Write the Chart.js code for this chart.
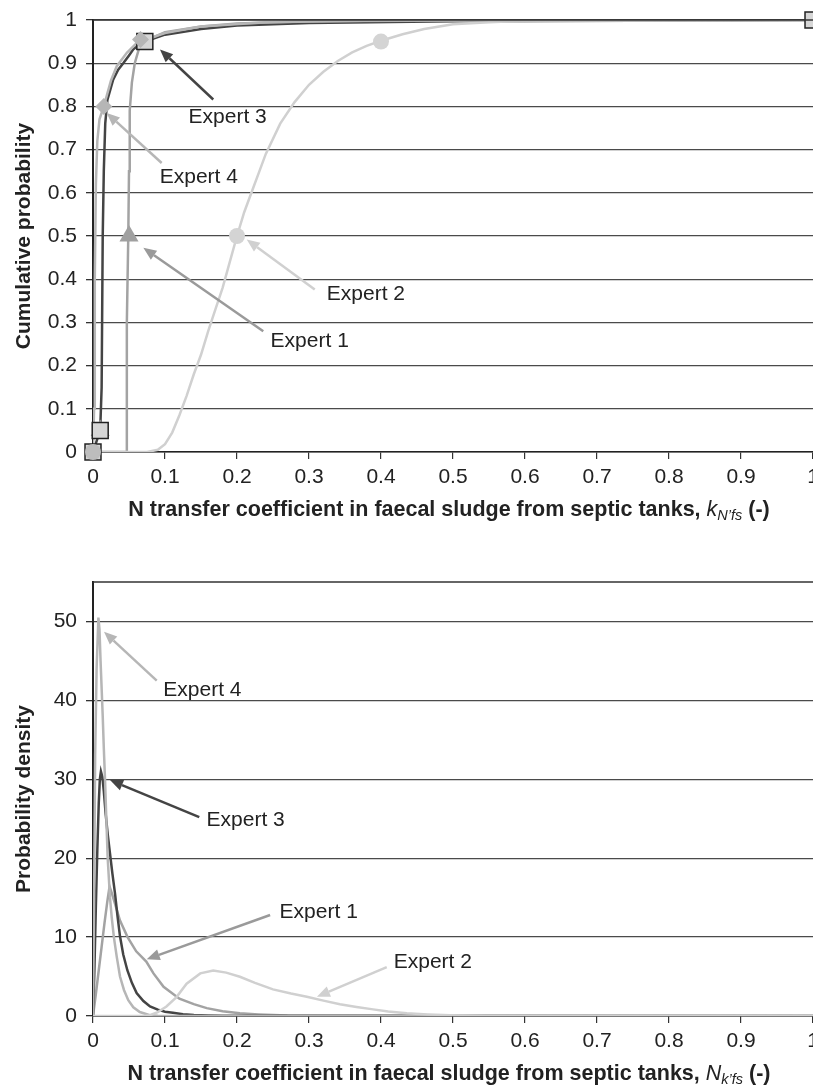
<!DOCTYPE html>
<html><head><meta charset="utf-8">
<script src="https://cdn.jsdelivr.net/npm/chart.js@4.4.1/dist/chart.umd.min.js"></script>
<style>
html,body{margin:0;padding:0;background:#fff;overflow:hidden;width:813px;height:1088px;}
#c1{position:absolute;left:0;top:0;}
#c2{position:absolute;left:0;top:545px;}
</style></head><body>
<canvas id="c1" width="813" height="545"></canvas>
<canvas id="c2" width="813" height="543"></canvas>
<script>
// ---------- tick labels ----------
const xTickValues = [0, 0.1, 0.2, 0.3, 0.4, 0.5, 0.6, 0.7, 0.8, 0.9, 1];
const xTickLabels = ['0', '0.1', '0.2', '0.3', '0.4', '0.5', '0.6', '0.7', '0.8', '0.9', '1'];
const cdfTickValues = [0, 0.1, 0.2, 0.3, 0.4, 0.5, 0.6, 0.7, 0.8, 0.9, 1];
const cdfTickLabels = ['0', '0.1', '0.2', '0.3', '0.4', '0.5', '0.6', '0.7', '0.8', '0.9', '1'];
const pdfTickValues = [0, 10, 20, 30, 40, 50];
const pdfTickLabels = ['0', '10', '20', '30', '40', '50'];
const seriesNames = ['Expert 1', 'Expert 2', 'Expert 3', 'Expert 4'];

// ---------- cumulative probability (top) ----------
const cdfExpert1X = [0, 0.046, 0.047, 0.049, 0.050, 0.051, 0.054, 0.058, 0.065, 0.07, 0.1, 0.15, 0.2, 0.3, 0.5, 1];
const cdfExpert1Y = [0, 0, 0.3, 0.5, 0.65, 0.79, 0.855, 0.9, 0.94, 0.95, 0.972, 0.985, 0.992, 0.997, 0.999, 1];
const cdfExpert2X = [0, 0.075, 0.09, 0.1, 0.11, 0.12, 0.13, 0.14, 0.15, 0.16, 0.17, 0.18, 0.19, 0.2, 0.21, 0.22, 0.23, 0.24, 0.26, 0.28, 0.3, 0.32, 0.34, 0.36, 0.38, 0.4, 0.43, 0.46, 0.5, 0.55, 0.6, 1];
const cdfExpert2Y = [0, 0, 0.005, 0.018, 0.045, 0.085, 0.13, 0.18, 0.225, 0.28, 0.33, 0.38, 0.44, 0.5, 0.555, 0.6, 0.645, 0.69, 0.76, 0.81, 0.85, 0.88, 0.905, 0.925, 0.94, 0.952, 0.967, 0.979, 0.99, 0.995, 0.998, 1];
const cdfExpert3X = [0, 0.01, 0.012, 0.0135, 0.015, 0.017, 0.02, 0.028, 0.035, 0.042, 0.05, 0.056, 0.065, 0.072, 0.1, 0.15, 0.2, 0.3, 0.5, 0.75, 1];
const cdfExpert3Y = [0, 0.05, 0.15, 0.5, 0.65, 0.76, 0.815, 0.862, 0.885, 0.9, 0.918, 0.932, 0.944, 0.95, 0.966, 0.979, 0.987, 0.993, 0.997, 0.998, 1];
const cdfExpert4X = [0, 0.0015, 0.0025, 0.004, 0.006, 0.009, 0.015, 0.02, 0.025, 0.033, 0.047, 0.061, 0.07, 0.1, 0.15, 0.24, 0.4, 1];
const cdfExpert4Y = [0, 0.1, 0.4, 0.62, 0.72, 0.77, 0.8, 0.83, 0.86, 0.893, 0.924, 0.947, 0.953, 0.97, 0.985, 0.995, 0.999, 1];

// expert estimates (markers)
const markExpert1X = [0.01, 0.05];
const markExpert1Y = [0.05, 0.5];
const markExpert2X = [0, 0.2, 0.4];
const markExpert2Y = [0, 0.5, 0.95];
const markExpert3X = [0, 0.01, 0.072, 1];
const markExpert3Y = [0, 0.05, 0.95, 1];
const markExpert4X = [0.015, 0.066];
const markExpert4Y = [0.8, 0.955];

// ---------- probability density (bottom) ----------
const pdfExpert1X = [0, 0.004, 0.008, 0.012, 0.016, 0.02, 0.023, 0.026, 0.03, 0.0375, 0.048, 0.06, 0.074, 0.084, 0.098, 0.12, 0.14, 0.158, 0.18, 0.204, 0.23, 0.25, 0.27, 0.3, 1];
const pdfExpert1Y = [0, 2.8, 5.8, 8.8, 11.8, 14.6, 16.4, 15.6, 14.4, 12.1, 10.0, 8.2, 6.9, 5.4, 3.7, 2.2, 1.5, 1.0, 0.6, 0.34, 0.2, 0.13, 0.06, 0.02, 0];
const pdfExpert2X = [0, 0.07, 0.079, 0.09, 0.102, 0.116, 0.13, 0.149, 0.167, 0.185, 0.204, 0.225, 0.25, 0.275, 0.297, 0.32, 0.343, 0.366, 0.389, 0.41, 0.436, 0.465, 0.496, 0.52, 0.545, 1];
const pdfExpert2Y = [0, 0, 0.1, 0.5, 1.2, 2.4, 4.1, 5.4, 5.75, 5.5, 4.97, 4.2, 3.37, 2.85, 2.44, 1.95, 1.5, 1.15, 0.84, 0.58, 0.34, 0.2, 0.1, 0.05, 0.02, 0];
const pdfExpert3X = [0, 0.002, 0.004, 0.006, 0.008, 0.0095, 0.011, 0.013, 0.015, 0.0176, 0.0205, 0.0236, 0.027, 0.0306, 0.034, 0.0375, 0.042, 0.0477, 0.054, 0.0606, 0.07, 0.0792, 0.09, 0.1, 0.111, 0.125, 0.14, 0.16, 0.18, 1];
const pdfExpert3Y = [0, 6, 14, 21, 27, 30, 31, 30.3, 28.5, 25.6, 23, 20.6, 18, 15.5, 12.7, 10.1, 7.8, 5.8, 4.2, 2.9, 1.9, 1.2, 0.8, 0.55, 0.4, 0.22, 0.12, 0.05, 0.02, 0];
const pdfExpert4X = [0, 0.0015, 0.003, 0.005, 0.0075, 0.009, 0.0105, 0.012, 0.0135, 0.015, 0.0167, 0.0185, 0.0204, 0.0236, 0.026, 0.029, 0.033, 0.0375, 0.043, 0.049, 0.056, 0.065, 0.079, 0.09, 0.1, 1];
const pdfExpert4Y = [0, 15, 33, 44, 50.5, 49, 45, 41.5, 38, 34, 30, 25, 20, 15, 12.5, 10, 7.5, 5, 3.3, 2, 1.1, 0.5, 0.1, 0.03, 0, 0];

// ---------- styling / annotation config (kept apart from data) ----------
const FONT = '"Liberation Sans", Arial, Helvetica, sans-serif';
const TXT = '#222';
const COL = { e1: '#a3a3a3', e2: '#d0d0d0', e3: '#444444', e4: '#b6b6b6' };

const topNotes = [
  { text: seriesNames[2], tx: 0.187, ty: 0.774, from: [0.167, 0.816], to: [0.093, 0.932], color: COL.e3 },
  { text: seriesNames[3], tx: 0.147, ty: 0.635, from: [0.0954, 0.669], to: [0.019, 0.785], color: COL.e4 },
  { text: seriesNames[1], tx: 0.379, ty: 0.365, from: [0.308, 0.376], to: [0.2135, 0.492], color: COL.e2 },
  { text: seriesNames[0], tx: 0.301, ty: 0.256, from: [0.2365, 0.2797], to: [0.0699, 0.4727], color: '#9a9a9a' }
];
const bottomNotes = [
  { text: seriesNames[3], tx: 0.152, ty: 41.3, from: [0.0885, 42.5], to: [0.0153, 48.7], color: COL.e4 },
  { text: seriesNames[2], tx: 0.212, ty: 24.8, from: [0.1476, 25.2], to: [0.0236, 29.9], color: COL.e3 },
  { text: seriesNames[0], tx: 0.3135, ty: 13.2, from: [0.246, 12.8], to: [0.0746, 7.2], color: '#9a9a9a' },
  { text: seriesNames[1], tx: 0.472, ty: 6.87, from: [0.408, 6.2], to: [0.311, 2.44], color: COL.e2 }
];
const topTitleParts = [
  { text: 'N transfer coefficient in faecal sludge from septic tanks, ', font: 'bold 21.5px ' + FONT, dy: 0 },
  { text: 'k', font: 'italic 21.5px ' + FONT, dy: 0 },
  { text: 'N\u2019fs', font: 'italic 14.5px ' + FONT, dy: 4 },
  { text: ' (-)', font: 'bold 21.5px ' + FONT, dy: 0 }
];
const bottomTitleParts = [
  { text: 'N transfer coefficient in faecal sludge from septic tanks, ', font: 'bold 21.5px ' + FONT, dy: 0 },
  { text: 'N', font: 'italic 21.5px ' + FONT, dy: 0 },
  { text: 'k\u2019fs', font: 'italic 14.5px ' + FONT, dy: 4 },
  { text: ' (-)', font: 'bold 21.5px ' + FONT, dy: 0 }
];

const pts = (xs, ys) => xs.map((x, i) => ({ x: x, y: ys[i] }));

function lineDs(label, xs, ys, color) {
  return { label, data: pts(xs, ys), showLine: true, borderColor: color, backgroundColor: color,
    borderWidth: 2.5, pointRadius: 0, tension: 0, fill: false };
}
function markDs(label, xs, ys, style, radius, fillCol, borderCol, bw) {
  return { label, data: pts(xs, ys), showLine: false, pointStyle: style, pointRadius: radius,
    pointBackgroundColor: fillCol, pointBorderColor: borderCol, pointBorderWidth: bw, clip: false };
}

function makeNotesPlugin(notes, titleParts) {
  return {
    id: 'notes',
    afterDatasetsDraw(chart) {
      const ctx = chart.ctx, xs = chart.scales.x, ys = chart.scales.y;
      ctx.save();
      notes.forEach(a => {
        const x0 = xs.getPixelForValue(a.from[0]), y0 = ys.getPixelForValue(a.from[1]);
        const x1 = xs.getPixelForValue(a.to[0]), y1 = ys.getPixelForValue(a.to[1]);
        const ang = Math.atan2(y1 - y0, x1 - x0);
        const L = 13, W = 5.5;
        const bx = x1 - L * Math.cos(ang), by = y1 - L * Math.sin(ang);
        ctx.strokeStyle = a.color; ctx.lineWidth = 2.5; ctx.lineCap = 'butt';
        ctx.beginPath(); ctx.moveTo(x0, y0); ctx.lineTo(bx, by); ctx.stroke();
        ctx.fillStyle = a.color;
        ctx.beginPath(); ctx.moveTo(x1, y1);
        ctx.lineTo(bx + W * Math.sin(ang), by - W * Math.cos(ang));
        ctx.lineTo(bx - W * Math.sin(ang), by + W * Math.cos(ang));
        ctx.closePath(); ctx.fill();
        ctx.font = '21px ' + FONT; ctx.fillStyle = TXT;
        ctx.textAlign = 'center'; ctx.textBaseline = 'middle';
        ctx.fillText(a.text, xs.getPixelForValue(a.tx), ys.getPixelForValue(a.ty));
      });
      ctx.restore();
    },
    afterDraw(chart) {
      const ctx = chart.ctx, area = chart.chartArea;
      ctx.save();
      // top border of plot area
      ctx.strokeStyle = '#333'; ctx.lineWidth = 1.5;
      ctx.beginPath(); ctx.moveTo(area.left, area.top); ctx.lineTo(area.right, area.top); ctx.stroke();
      // axis title with italic subscript
      let total = 0;
      titleParts.forEach(p => { ctx.font = p.font; p.w = ctx.measureText(p.text).width; total += p.w; });
      let xx = (area.left + area.right) / 2 - 4 - total / 2;
      const yy = area.bottom + 63.5;
      ctx.fillStyle = TXT; ctx.textAlign = 'left'; ctx.textBaseline = 'alphabetic';
      titleParts.forEach(p => { ctx.font = p.font; ctx.fillText(p.text, xx, yy + p.dy); xx += p.w; });
      ctx.restore();
    }
  };
}

function makeScales(yMax, yVals, yLabels, yTitle, xHeight) {
  const tickFont = { family: FONT, size: 21 };
  return {
    x: {
      type: 'linear', min: 0, max: 1,
      afterBuildTicks: s => { s.ticks = xTickValues.map(v => ({ value: v })); },
      ticks: { callback: (v, i) => xTickLabels[i], font: tickFont, color: TXT, padding: 6, maxRotation: 0, autoSkip: false },
      grid: { drawOnChartArea: false, drawTicks: true, tickLength: 7, color: '#333', lineWidth: 1.2 },
      border: { color: '#222', width: 1.5 },
      afterFit: s => { s.height = xHeight; s.paddingLeft = 0; s.paddingRight = 0; }
    },
    y: {
      type: 'linear', min: 0, max: yMax,
      afterBuildTicks: s => { s.ticks = yVals.map(v => ({ value: v })); },
      ticks: { callback: (v, i) => yLabels[i], font: tickFont, color: TXT, padding: 9 },
      grid: { color: '#4a4a4a', lineWidth: 1.3, tickLength: 7, tickColor: '#333' },
      border: { color: '#222', width: 2 },
      title: { display: true, text: yTitle, color: TXT, font: { family: FONT, size: 21, weight: 'bold' }, padding: { top: 12, bottom: 0 } },
      afterFit: s => { s.width = 93; s.paddingTop = 0; s.paddingBottom = 0; }
    }
  };
}

const common = {
  responsive: false, animation: false, devicePixelRatio: 1, events: [],
  plugins: { legend: { display: false }, tooltip: { enabled: false } }
};

// ---------- top chart ----------
new Chart(document.getElementById('c1'), {
  type: 'scatter',
  data: {
    datasets: [
      markDs(seriesNames[1], markExpert2X, markExpert2Y, 'circle', 8, ['#bdbdbd', '#d4d4d4', '#d4d4d4'], ['#bdbdbd', '#d4d4d4', '#d4d4d4'], 0),
      markDs(seriesNames[3], markExpert4X, markExpert4Y, 'rectRot', 8.5, '#b6b6b6', '#b6b6b6', 0),
      markDs(seriesNames[2], markExpert3X, markExpert3Y, 'rect', 11.3, '#d6d6d6', '#222', 1.5),
      markDs(seriesNames[0], markExpert1X, markExpert1Y, 'triangle', 11, '#a0a0a0', '#a0a0a0', 0),
      lineDs(seriesNames[3], cdfExpert4X, cdfExpert4Y, COL.e4),
      lineDs(seriesNames[1], cdfExpert2X, cdfExpert2Y, COL.e2),
      lineDs(seriesNames[0], cdfExpert1X, cdfExpert1Y, COL.e1),
      lineDs(seriesNames[2], cdfExpert3X, cdfExpert3Y, COL.e3)
    ]
  },
  options: Object.assign({}, common, {
    layout: { autoPadding: false, padding: { top: 20, left: 0, right: 0, bottom: 0 } },
    scales: makeScales(1, cdfTickValues, cdfTickLabels, 'Cumulative probability', 93)
  }),
  plugins: [makeNotesPlugin(topNotes, topTitleParts)]
});

// ---------- bottom chart ----------
new Chart(document.getElementById('c2'), {
  type: 'scatter',
  data: {
    datasets: [
      lineDs(seriesNames[1], pdfExpert2X, pdfExpert2Y, COL.e2),
      lineDs(seriesNames[3], pdfExpert4X, pdfExpert4Y, COL.e4),
      lineDs(seriesNames[2], pdfExpert3X, pdfExpert3Y, COL.e3),
      lineDs(seriesNames[0], pdfExpert1X, pdfExpert1Y, COL.e1)
    ]
  },
  options: Object.assign({}, common, {
    layout: { autoPadding: false, padding: { top: 37, left: 0, right: 0, bottom: 0 } },
    scales: makeScales(55, pdfTickValues, pdfTickLabels, 'Probability density', 72)
  }),
  plugins: [makeNotesPlugin(bottomNotes, bottomTitleParts)]
});
</script></body></html>
